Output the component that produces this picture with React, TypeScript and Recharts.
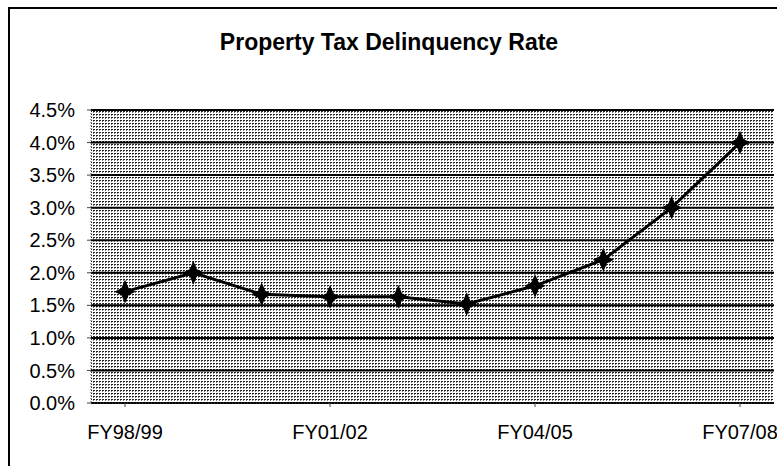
import { LineChart, Line, XAxis, YAxis, CartesianGrid } from 'recharts';

const YEARS = [
  'FY98/99',
  'FY99/00',
  'FY00/01',
  'FY01/02',
  'FY02/03',
  'FY03/04',
  'FY04/05',
  'FY05/06',
  'FY06/07',
  'FY07/08',
];

const RATES = [1.71, 2.0, 1.67, 1.63, 1.63, 1.52, 1.8, 2.2, 3.0, 4.0];

const Y_TICKS = [0, 0.5, 1, 1.5, 2, 2.5, 3, 3.5, 4, 4.5];

const chartData = YEARS.map((year, i) => ({ year, rate: RATES[i] }));

const font = 'Arial, "Liberation Sans", sans-serif';

// Excel-style star marker
function StarDot(props: any) {
  const { cx, cy, index } = props;
  if (cx == null || cy == null) return null;
  const d = `M${cx},${cy - 10} L${cx + 3},${cy - 3} L${cx + 9},${cy} L${cx + 3},${cy + 3} L${cx},${cy + 10} L${cx - 3},${cy + 3} L${cx - 9},${cy} L${cx - 3},${cy - 3} Z`;
  return <path key={`dot-${index}`} d={d} fill="#000" stroke="#000" strokeWidth={1.5} />;
}

export default function App() {
  return (
    <div
      style={{
        position: 'absolute',
        left: 0,
        top: 0,
        width: 777,
        height: 466,
        background: '#fff',
        fontFamily: font,
        overflow: 'hidden',
      }}
    >
      <div
        style={{
          position: 'absolute',
          left: 8,
          top: 7,
          width: 800,
          height: 500,
          borderLeft: '2px solid #000',
          borderTop: '2px solid #000',
        }}
      />
      <div
        style={{
          position: 'absolute',
          left: 0,
          width: 778,
          top: 29,
          textAlign: 'center',
          fontWeight: 'bold',
          fontSize: 23,
          color: '#000',
        }}
      >
        Property Tax Delinquency Rate
      </div>
      <div style={{ position: 'absolute', left: 0, top: 0 }}>
        <LineChart
          width={777}
          height={466}
          data={chartData}
          margin={{ top: 110, right: 3, left: 0, bottom: 23 }}
        >
          <defs>
            <pattern id="dots" width="3" height="3" patternUnits="userSpaceOnUse">
              <rect width="3" height="3" fill="#ffffff" />
              <rect x="0" y="0" width="2" height="1" fill="#222" />
              <rect x="0" y="1" width="1" height="1" fill="#777" />
            </pattern>
          </defs>
          <CartesianGrid
            vertical={false}
            fill="url(#dots)"
            fillOpacity={1}
            stroke="#000"
            strokeWidth={2}
          />
          <XAxis
            dataKey="year"
            interval={2}
            padding={{ left: 34, right: 34 }}
            tickSize={4}
            tickMargin={18}
            height={40}
            axisLine={{ stroke: '#444', strokeDasharray: '1 2' }}
            tickLine={{ stroke: '#444' }}
            tick={{ fontSize: 20, fill: '#000', fontFamily: font }}
          />
          <YAxis
            domain={[0, 4.5]}
            ticks={Y_TICKS}
            width={91}
            tickSize={4}
            tickMargin={12}
            interval={0}
            axisLine={{ stroke: '#444', strokeDasharray: '1 2' }}
            tickLine={{ stroke: '#444' }}
            tickFormatter={(v) => `${Number(v).toFixed(1)}%`}
            tick={{ fontSize: 20, fill: '#000', fontFamily: font }}
          />
          <Line
            type="linear"
            dataKey="rate"
            stroke="#000"
            strokeWidth={3}
            dot={<StarDot />}
            isAnimationActive={false}
          />
        </LineChart>
      </div>
    </div>
  );
}
